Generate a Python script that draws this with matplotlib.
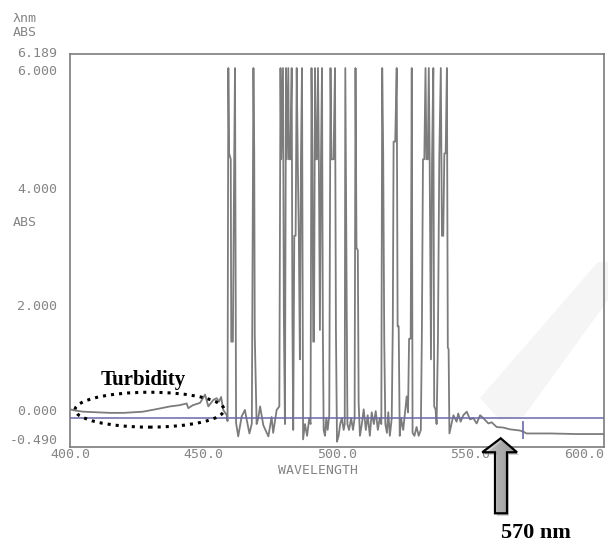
import numpy as np
import matplotlib.pyplot as plt
from matplotlib.patches import Ellipse, Polygon

# Turbidity region (before the saturated band)
wl_turb = [400.0, 401.9, 405.0, 410.0, 415.0, 420.0, 427.3, 432.0, 437.5, 441.0,
           443.7, 444.3, 446.0, 448.7, 450.6, 451.8, 453.7, 454.9, 455.8, 456.6,
           457.4, 458.7]
abs_turb = [0.15, 0.13, 0.11, 0.10, 0.09, 0.09, 0.11, 0.15, 0.20, 0.22,
            0.25, 0.17, 0.22, 0.26, 0.40, 0.20, 0.31, 0.34, 0.28, 0.36,
            0.14, 0.05]

# Saturated/noisy band
wl_band = [459.0, 459.3, 459.6, 460.2, 460.4, 461.0, 461.5, 461.8, 462.2, 463.0,
           464.3, 465.5, 466.2, 467.2, 468.1, 468.7, 469.0, 469.2, 469.9, 470.5,
           471.2, 472.4, 474.3, 475.5, 476.1, 477.4, 478.4, 478.84, 479.1, 479.78,
           479.9, 480.1, 480.5, 480.9, 481.2, 481.76, 482.0, 482.5, 483.03, 483.3,
           483.6, 484.0, 484.5, 484.91, 485.3, 485.7, 486.1, 486.5, 486.89, 487.3,
           488.0, 488.8, 489.6, 490.1, 490.45, 490.8, 491.1, 491.4, 491.76, 492.1,
           492.5, 492.88, 493.2, 493.6, 494.0, 494.38, 494.7, 495.0, 495.5, 496.0,
           496.5, 497.1, 497.57, 497.9, 498.7, 499.25, 499.6, 500.0, 500.6, 501.2,
           501.8, 502.5, 502.9, 503.11, 503.5, 503.9, 504.5, 505.3, 506.0, 506.6,
           506.93, 507.3, 507.8, 508.1, 508.6, 509.3, 510.0, 510.8, 511.5, 512.3,
           513.0, 513.8, 514.5, 515.3, 516.0, 516.6, 516.93, 517.3, 517.7, 518.1,
           518.7, 519.2, 519.8, 520.5, 520.9, 521.2, 521.8, 522.36, 522.7, 523.1,
           523.5, 524.0, 524.8, 525.5, 526.1, 526.6, 527.0, 527.6, 528.0, 528.3,
           529.0, 529.8, 530.6, 531.4, 531.8, 532.2, 532.7, 533.15, 533.5, 534.0,
           534.38, 534.7, 535.2, 535.6, 536.07, 536.4, 536.9, 537.3, 537.8, 538.3,
           538.88, 539.3, 539.8, 540.2, 540.7, 541.16, 541.5, 541.8, 542.1]
abs_band = [-0.05, 5.95, 4.5, 4.4, 1.3, 1.3, 4.4, 5.95, -0.08, -0.31,
            0.03, 0.14, -0.03, -0.26, -0.09, 5.95, 4.5, 1.4, -0.1, 0.0,
            0.2, -0.12, -0.31, 0.02, -0.25, 0.14, 0.2, 5.95, 4.4, 5.95,
            4.4, 1.7, -0.1, 5.95, 4.4, 5.95, 4.4, 4.4, 5.95, 1.7,
            -0.2, 3.1, 3.1, 5.95, 4.4, 3.1, 1.0, 4.4, 5.95, -0.36,
            -0.1, -0.3, 0.0, -0.1, 5.95, 4.4, 1.3, 1.3, 5.95, 4.4,
            4.4, 5.95, 4.4, 1.5, 4.4, 5.95, 1.5, -0.2, -0.3, 0.0,
            -0.2, 0.05, 5.95, 4.4, 4.4, 5.95, 1.5, -0.4, -0.3, -0.1,
            0.0, -0.2, -0.1, 5.95, 3.0, -0.1, -0.2, 0.0, -0.2, 0.0,
            5.95, 2.9, 2.85, 0.27, -0.3, -0.1, 0.15, -0.2, 0.05, -0.3,
            0.1, -0.1, 0.12, -0.2, 0.0, -0.1, 5.95, 4.5, 1.3, -0.1,
            -0.25, 0.1, -0.3, 0.0, 1.6, 4.7, 4.7, 5.95, 1.56, 1.56,
            -0.3, 0.0, -0.2, 0.1, 0.37, 0.1, 1.35, 1.35, 5.95, -0.25,
            -0.3, -0.15, -0.3, -0.2, 1.5, 4.4, 4.4, 5.95, 4.4, 4.4,
            5.95, 4.4, 1.0, 4.4, 5.95, 0.2, 0.15, -0.1, 1.3, 4.4,
            5.95, 3.1, 3.1, 4.5, 4.5, 5.95, 1.2, 1.17, -0.26]

# Tail after the band
wl_tail = [543.6, 544.8, 545.4, 546.3, 547.3, 548.6, 549.8, 551.1, 552.3, 553.6,
           554.8, 556.7, 557.9, 559.8, 562.3, 564.8, 568.5, 569.8, 571.0, 580.0,
           590.0, 600.0]
abs_tail = [0.05, -0.06, 0.08, -0.06, 0.05, 0.11, -0.02, 0.0, -0.09, 0.05,
            0.0, -0.09, -0.07, -0.15, -0.16, -0.19, -0.21, -0.23, -0.26, -0.26,
            -0.27, -0.27]

x_ticks = [400, 450, 500, 550, 600]
x_labels = ["400.0", "450.0", "500.0", "550.0", "600.0"]
y_ticks = [6.189, 6.0, 4.0, 2.0, 0.0, -0.49]
y_labels = ["6.189", "6.000", "4.000", "2.000", "0.000", "-0.490"]
marker_nm = 569.8

wl = np.array(wl_turb + wl_band + wl_tail)
ab = np.array(abs_turb + abs_band + abs_tail)

W, H = 608, 553
GRAY = '#7c7c7c'
TXT = '#858585'
MONO = 'DejaVu Sans Mono'
FS = 9.5

fig = plt.figure(figsize=(W / 100, H / 100), dpi=100)
ax = fig.add_axes([70 / W, 1 - 447 / H, 534 / W, 393 / H])


def fp(x, y):
    return (x / W, 1 - y / H)


# faint watermark band from the scan
band = Polygon([fp(480, 398), fp(598, 262), fp(608, 262), fp(608, 300),
                fp(524, 416), fp(500, 420)],
               closed=True, transform=fig.transFigure, facecolor='#f5f5f5',
               edgecolor='none', clip_on=False, zorder=0.5)
ax.add_patch(band)

ax.plot(wl, ab, color=GRAY, lw=1.3, zorder=2)
ax.axhline(0, color='#6a6aa8', lw=1.1, zorder=3)
ax.vlines(marker_nm, -0.36, -0.05, color='#6a6aa8', lw=1.2, zorder=3)

ax.set_xlim(400, 600)
ax.set_ylim(-0.49, 6.189)
for s in ax.spines.values():
    s.set_color(GRAY)
    s.set_linewidth(1.2)

ax.set_xticks(x_ticks)
ax.set_xticklabels(x_labels, fontfamily=MONO, fontsize=FS, color=TXT)
ax.set_yticks(y_ticks)
ax.set_yticklabels(y_labels, fontfamily=MONO, fontsize=FS, color=TXT)
ax.tick_params(which='major', length=0)
ax.tick_params(axis='x', which='major', pad=1)
ax.tick_params(axis='y', which='major', pad=9)
ax.xaxis.get_majorticklabels()[-1].set_ha('right')
for lab, va in zip(ax.yaxis.get_majorticklabels(),
                   ['center', 'top', 'top', 'top', 'bottom', 'bottom']):
    lab.set_va(va)

ax.set_xticks([450, 500, 550], minor=True)
ax.set_yticks([4.0, 2.0], minor=True)
ax.tick_params(which='minor', direction='in', length=10, width=1.2, color=GRAY,
               top=True, right=True)

fig.text(13 / W, 1 - 19 / H, "λnm", fontfamily=MONO, fontsize=FS, color=TXT,
         va='center')
fig.text(13 / W, 1 - 32 / H, "ABS", fontfamily=MONO, fontsize=FS, color=TXT,
         va='center')
fig.text(13 / W, 1 - 222 / H, "ABS", fontfamily=MONO, fontsize=FS, color=TXT,
         va='center')
fig.text(318 / W, 1 - 470 / H, "WAVELENGTH", fontfamily=MONO, fontsize=FS,
         color=TXT, ha='center', va='center')

# annotations
ell = Ellipse((429.8, 0.144), 55.8, 0.593, fill=False, ls=':', lw=2.2,
              color='black', clip_on=False, zorder=4)
ax.add_patch(ell)
fig.text(143 / W, 1 - 380 / H, "Turbidity", fontfamily='Liberation Serif',
         fontweight='bold', fontsize=15, ha='center', va='center')
fig.text(536 / W, 1 - 533 / H, "570 nm", fontfamily='Liberation Serif',
         fontweight='bold', fontsize=16, ha='center', va='center')

ov = fig.add_axes([0, 0, 1, 1], zorder=5)
ov.patch.set_alpha(0)
ov.axis('off')
arrow = [(500.7, 438.3), (517, 452.3), (507, 452.3), (507, 513.3),
         (495, 513.3), (495, 452.3), (482.3, 452.3)]
shadow = Polygon([(x + 2, y + 2.5) for x, y in arrow], closed=True,
                 facecolor='#999999', edgecolor='none', alpha=0.5)
ov.add_patch(shadow)
grad = np.linspace(0.9, 0.62, 64)[None, :]
img = ov.imshow(grad, extent=[482, 517, 513.5, 438], cmap='gray', vmin=0, vmax=1,
                aspect='auto', interpolation='bicubic')
poly = Polygon(arrow, closed=True, facecolor='none', edgecolor='black', lw=1.6)
ov.add_patch(poly)
img.set_clip_path(poly)
ov.set_xlim(0, W)
ov.set_ylim(H, 0)

fig.savefig('out.png', dpi=100, facecolor='white')
